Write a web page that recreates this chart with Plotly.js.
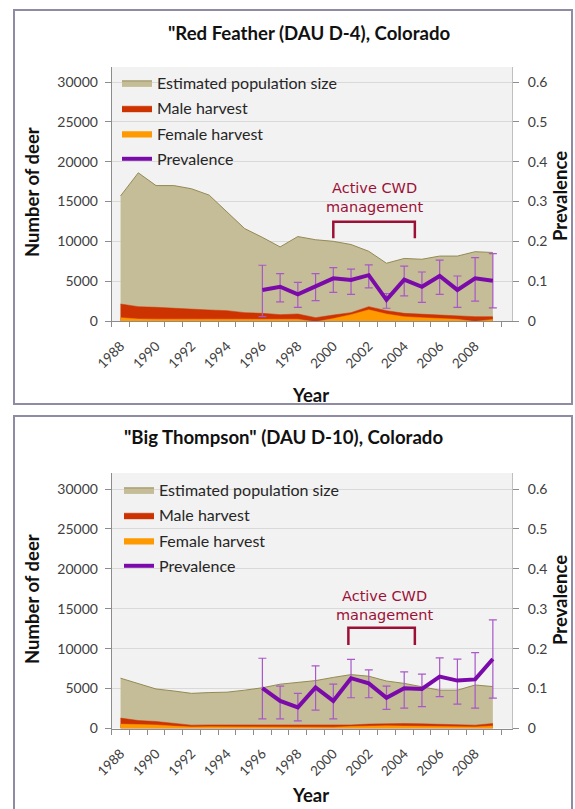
<!DOCTYPE html>
<html><head><meta charset="utf-8">
<script src="https://cdn.plot.ly/plotly-3.0.1.min.js"></script>
<style>html,body{margin:0;padding:0;background:#fff;} #chart{width:575px;height:809px;}</style>
</head><body><div id="chart"></div>
<script>
// ---------- data ----------
const years = [1988,1989,1990,1991,1992,1993,1994,1995,1996,1997,1998,1999,2000,2001,2002,2003,2004,2005,2006,2007,2008,2009];
const prevYears = [1996,1997,1998,1999,2000,2001,2002,2003,2004,2005,2006,2007,2008,2009];
const tickYears = [1988,1990,1992,1994,1996,1998,2000,2002,2004,2006,2008];
const tickLabels = ["1988","1990","1992","1994","1996","1998","2000","2002","2004","2006","2008"];

// Red Feather (DAU D-4)
const rfPopulation = [15700,18600,17000,17000,16600,15800,13700,11600,10500,9300,10600,10200,10000,9600,8750,7250,7850,7750,8150,8150,8700,8600];
const rfMale = [2130,1800,1720,1590,1460,1380,1300,1050,960,800,880,420,750,1050,1800,1300,960,840,750,630,540,540];
const rfFemale = [420,250,230,210,200,200,210,220,210,200,220,-100,300,800,1400,880,540,420,330,210,-60,200];
const rfPrev  = [0.078,0.086,0.067,0.086,0.107,0.103,0.115,0.053,0.104,0.086,0.113,0.078,0.107,0.101];
const rfUpper = [0.140,0.119,0.097,0.119,0.134,0.130,0.141,0.069,0.138,0.123,0.153,0.113,0.159,0.169];
const rfLower = [0.011,0.048,0.034,0.051,0.072,0.067,0.083,0.032,0.063,0.047,0.067,0.034,0.050,0.033];

// Big Thompson (DAU D-10)
const btPopulation = [6300,5600,4950,4700,4400,4500,4550,4800,5100,5550,5800,6000,6400,6750,6550,5950,5650,5250,4800,4800,5450,5250];
const btMale = [1300,1000,880,650,420,450,450,430,420,420,400,360,380,450,550,600,620,580,550,480,420,620];
const btFemale = [550,500,450,300,200,220,220,220,200,180,170,150,170,250,320,330,300,280,250,220,200,320];
const btPrev  = [0.101,0.069,0.053,0.103,0.069,0.126,0.113,0.077,0.101,0.099,0.130,0.120,0.123,0.174];
const btUpper = [0.176,0.106,0.088,0.157,0.111,0.173,0.147,0.106,0.142,0.136,0.177,0.174,0.190,0.272];
const btLower = [0.024,0.024,0.019,0.046,0.024,0.077,0.077,0.048,0.051,0.055,0.080,0.061,0.051,0.076];

const seriesNames = ["Estimated population size","Male harvest","Female harvest","Prevalence"];

// ---------- styling ----------
const FONT = "Lato, 'Open Sans', sans-serif";
const C_POP = "#c4bd97", C_POP_LINE = "#948a54", C_MALE = "#cc3300", C_FEMALE = "#ff9900";
const C_PREV = "#7a0aaa", C_ERR = "#a858c8", C_NOTE = "#9c1036";
const W = 575, H = 809;
const px = x => x / W, py = y => 1 - y / H;

function panelTraces(pop, male, female, prev, upper, lower, xa, ya, ya2, lg) {
  return [
    {x: years, y: pop, type: "scatter", mode: "lines", fill: "tozeroy", fillcolor: C_POP,
     line: {color: C_POP_LINE, width: 1}, name: seriesNames[0], xaxis: xa, yaxis: ya, legend: lg, legendgroup: lg+"a"},
    {x: years, y: male, type: "scatter", mode: "lines", fill: "tozeroy", fillcolor: C_MALE,
     line: {color: C_MALE, width: 0.5}, name: seriesNames[1], xaxis: xa, yaxis: ya, legend: lg, legendgroup: lg+"b"},
    {x: years, y: female, type: "scatter", mode: "lines", fill: "tozeroy", fillcolor: C_FEMALE,
     line: {color: C_FEMALE, width: 0.5}, name: seriesNames[2], xaxis: xa, yaxis: ya, legend: lg, legendgroup: lg+"c"},
    {x: prevYears, y: prev, type: "scatter", mode: "lines", line: {color: C_PREV, width: 4},
     error_y: {type: "data", symmetric: false,
               array: upper.map((u, i) => u - prev[i]), arrayminus: lower.map((l, i) => prev[i] - l),
               color: C_ERR, thickness: 1.2, width: 4},
     name: seriesNames[3], xaxis: xa, yaxis: ya2, legend: lg, legendgroup: lg+"d"}
  ];
}

const data = [
  ...panelTraces(rfPopulation, rfMale, rfFemale, rfPrev, rfUpper, rfLower, "x", "y", "y2", "legend"),
  ...panelTraces(btPopulation, btMale, btFemale, btPrev, btUpper, btLower, "x2", "y3", "y4", "legend2")
];

const tickFont = {family: FONT, size: 14, color: "#404040"};
const xDomain = [px(111.7), px(512)];
const xRange = [1987.5, 2010.08];
function xAxis(anchor) {
  return {domain: xDomain, anchor: anchor, range: xRange, tickmode: "array", tickvals: tickYears, ticktext: tickLabels,
    tickangle: -45, ticks: "", showline: true, linecolor: "#8c8c8c", linewidth: 1, showgrid: false, zeroline: false,
    tickfont: {family: FONT, size: 13.5, color: "#404040"}, ticklabelstandoff: 11,
    minor: {tickmode: "linear", tick0: 1987.5, dtick: 1, ticks: "outside", ticklen: 5, tickcolor: "#8c8c8c", showgrid: false},
    automargin: false, fixedrange: true};
}
function yLeft(dom, anchor, max) {
  return {domain: dom, anchor: anchor, range: [0, max], tickmode: "linear", tick0: 0, dtick: 5000, tickformat: "d",
    ticks: "outside", ticklen: 6, tickcolor: "#8c8c8c", showline: true, linecolor: "#8c8c8c", ticklabelstandoff: 4,
    showgrid: true, gridcolor: "#d9d9d9", gridwidth: 1, zeroline: false, tickfont: tickFont, automargin: false};
}
function yRight(overlay, anchor, max) {
  return {overlaying: overlay, anchor: anchor, side: "right", range: [0, max], tickmode: "linear", tick0: 0, dtick: 0.1,
    ticks: "outside", ticklen: 6, tickcolor: "#8c8c8c", showline: true, linecolor: "#bfbfbf", ticklabelstandoff: 6,
    showgrid: false, zeroline: false, tickfont: tickFont, automargin: false};
}

const topDom = [py(321), py(67)];
const botDom = [py(728.5), py(473)];

function legendCfg(x, y) {
  return {x: px(x), y: py(y), xanchor: "left", yanchor: "top", bgcolor: "rgba(0,0,0,0)", borderwidth: 0,
    font: {family: FONT, size: 16, color: "#262626"}, traceorder: "grouped", tracegroupgap: 1.5, itemwidth: 30};
}

function noteAnn(x, y, xr, yr) {
  return {text: "Active CWD<br>management", x: x, y: y, xref: xr, yref: yr, showarrow: false,
    xanchor: "center", yanchor: "middle",
    font: {family: "'DejaVu Sans', sans-serif", size: 14.5, color: C_NOTE}, align: "center"};
}

const titleFont = {family: FONT, size: 18.6, color: "#111", weight: "bold"};
const axTitleFont = {family: FONT, size: 18.5, color: "#111", weight: "bold"};
function ann(text, x, y, font, angle) {
  return {text: text, x: px(x), y: py(y), xref: "paper", yref: "paper", showarrow: false,
    xanchor: "center", yanchor: "middle", textangle: angle || 0, font: font};
}

const layout = {
  width: W, height: H, margin: {l: 0, r: 0, t: 0, b: 0}, paper_bgcolor: "#fff", plot_bgcolor: "#f2f2f2",
  showlegend: true,
  xaxis: xAxis("y"), yaxis: yLeft(topDom, "x", 31883), yaxis2: yRight("y", "x", 0.63766),
  xaxis2: xAxis("y3"), yaxis3: yLeft(botDom, "x2", 32004), yaxis4: yRight("y3", "x2", 0.64008),
  legend: legendCfg(117, 66), legend2: legendCfg(119, 473),
  shapes: [
    {type: "rect", xref: "paper", yref: "paper", x0: px(14), x1: px(572), y0: py(404), y1: py(10), line: {color: "#8f8ba3", width: 2}},
    {type: "rect", xref: "paper", yref: "paper", x0: px(14), x1: px(572), y0: py(830), y1: py(416), line: {color: "#8f8ba3", width: 2}},
    {type: "path", xref: "x", yref: "y", path: "M2000,10400 L2000,12450 L2004.6,12450 L2004.6,10400", line: {color: C_NOTE, width: 2.5}},
    {type: "path", xref: "x2", yref: "y3", path: "M2000.85,10450 L2000.85,12620 L2004.6,12620 L2004.6,10450", line: {color: C_NOTE, width: 2.5}}
  ],
  annotations: [
    ann("\"Red Feather (DAU D-4), Colorado", 309, 33, titleFont),
    ann("\"Big Thompson\" (DAU D-10), Colorado", 283, 437, titleFont),
    ann("Number of deer", 32, 192, axTitleFont, -90),
    ann("Number of deer", 32, 599, axTitleFont, -90),
    ann("Prevalence", 560, 196, axTitleFont, -90),
    ann("Prevalence", 560, 600, axTitleFont, -90),
    ann("Year", 310, 395, axTitleFont),
    ann("Year", 310, 795, axTitleFont),
    noteAnn(2002.3, 15450, "x", "y"),
    noteAnn(2002.9, 15350, "x2", "y3")
  ]
};

Plotly.newPlot("chart", data, layout, {staticPlot: true, displayModeBar: false});
</script>
</body></html>
